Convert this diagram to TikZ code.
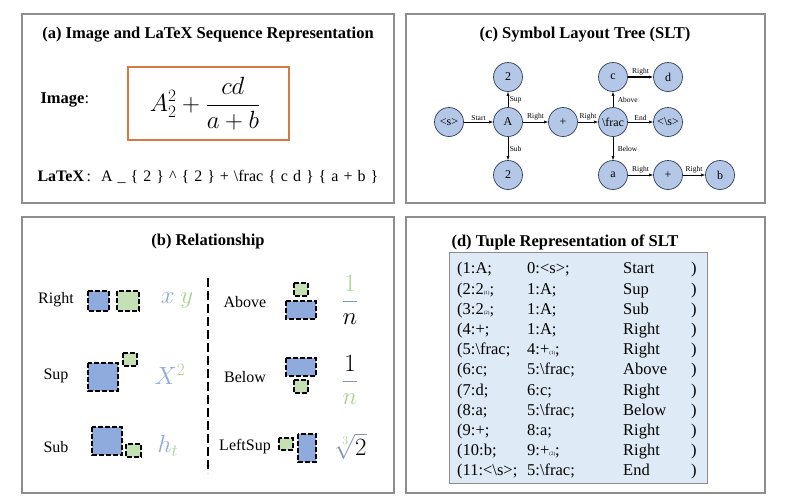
\documentclass[tikz,border=0pt]{standalone}
\usepackage{fontspec}
\setmainfont{Liberation Serif}
\usepackage{amsmath}
\usetikzlibrary{arrows.meta}

\definecolor{framegray}{HTML}{8E8E8E}
\definecolor{imgorange}{HTML}{D27B43}
\definecolor{nodefill}{HTML}{B4C7E7}
\definecolor{nodeline}{HTML}{2F3F60}
\definecolor{boxblue}{HTML}{8FAADC}
\definecolor{boxgreen}{HTML}{C5E0B4}
\definecolor{txtgreen}{HTML}{A9D18E}
\definecolor{barblue}{HTML}{8497B0}
\definecolor{tablefill}{HTML}{DEEBF7}
\definecolor{tableline}{HTML}{8C8C8C}

\tikzset{
  panel/.style={draw=framegray, line width=1.4pt},
  title/.style={font=\fontsize{16.5}{19}\selectfont\bfseries},
  slt/.style={circle, draw=nodeline, fill=nodefill, line width=0.7pt,
    minimum size=29pt, inner sep=0pt, font=\fontsize{12}{14}\selectfont},
  link/.style={-{Latex[length=4pt,width=3pt]}, line width=0.5pt},
  elabel/.style={font=\fontsize{7.5}{8}\selectfont, inner sep=1.5pt},
  bluebox/.style={draw, fill=boxblue, dash pattern=on 5pt off 2pt, line width=1.1pt},
  greenbox/.style={draw, fill=boxgreen, dash pattern=on 5pt off 2pt, line width=1.1pt},
  rellabel/.style={font=\fontsize{16}{18}\selectfont},
  relmath/.style={font=\fontsize{23}{26}\selectfont},
}

\begin{document}
\begin{tikzpicture}[x=1pt, y=-1pt]
    \useasboundingbox (0,0) rectangle (789,501);
    % panel frames
    \draw[panel] (22,14) rectangle (394,203);
    \draw[panel] (406,14) rectangle (765,203);
    \draw[panel] (22,217) rectangle (394,493);
    \draw[panel] (406,217) rectangle (765,493);

    % (a) image and latex sequence
    \node[title] (titlea) at (208,35) {(a) Image and LaTeX Sequence Representation};
    \node[anchor=west, font=\fontsize{16.5}{19}\selectfont] (imglabel) at (37,100) {\textbf{Image}:};
    \draw[imgorange, line width=1.8pt] (128,67) rectangle (289,140);
    \node[font=\fontsize{25}{29}\selectfont] (formula) at (205,104) {$\displaystyle A_2^2+\frac{cd}{a+b}$};
    \node[anchor=west, font=\fontsize{16}{19}\selectfont] (latexseq) at (34,177)
      {\spaceskip=5pt\textbf{LaTeX}\,:\ \ A \_ \{ 2 \} \textasciicircum{} \{ 2 \} + \textbackslash frac \{ c d \} \{ a + b \}};

    % (c) symbol layout tree
    \node[title] (titlec) at (585,35) {(c) Symbol Layout Tree (SLT)};
    \node[slt] (s)     at (449,122) {<s>};
    \node[slt] (A)     at (508,122) {A};
    \node[slt] (sup2)  at (508,77)  {2};
    \node[slt] (sub2)  at (508,175) {2};
    \node[slt] (plus)  at (563,122) {+};
    \node[slt] (frac)  at (613,122) {\textbackslash frac};
    \node[slt] (end)   at (668,122) {<\textbackslash s>};
    \node[slt] (c)     at (613,77)  {c};
    \node[slt] (d)     at (668,77)  {d};
    \node[slt] (a)     at (613,175) {a};
    \node[slt] (plus2) at (668,175) {+};
    \node[slt] (b)     at (720,175) {b};
    \draw[link] (s) -- node[elabel,above] (lstart) {Start} (A);
    \draw[link] (A) -- node[elabel,right] (lsup) {Sup} (sup2);
    \draw[link] (A) -- node[elabel,right] (lsub) {Sub} (sub2);
    \draw[link] (A) -- node[elabel,above] (lright1) {Right} (plus);
    \draw[link] (plus) -- node[elabel,above] (lright2) {Right} (frac);
    \draw[link] (frac) -- node[elabel,right,xshift=3pt] (labove) {Above} (c);
    \draw[link,line width=1.2pt] (c) -- node[elabel,above] (lright3) {Right} (d);
    \draw[link] (frac) -- node[elabel,above] (lend) {End} (end);
    \draw[link] (frac) -- node[elabel,right,xshift=3pt] (lbelow) {Below} (a);
    \draw[link] (a) -- node[elabel,above] (lright4) {Right} (plus2);
    \draw[link] (plus2) -- node[elabel,above] (lright5) {Right} (b);

    % (b) relationship
    \node[title] (titleb) at (208,242) {(b) Relationship};
    \draw[dash pattern=on 9pt off 4pt, line width=1.6pt] (208,278) -- (208,473);
    % left column
    \node[rellabel] (rright) at (56,300) {Right};
    \draw[bluebox]  (88,291) rectangle (109,311);
    \draw[greenbox] (117,291) rectangle (139,311);
    \node[relmath] (mxy) at (177,301) {$\color{boxblue}x\ \color{txtgreen}y$};
    \node[rellabel] (rsup) at (56,376) {Sup};
    \draw[bluebox]  (88,363) rectangle (118,391);
    \draw[greenbox] (123,353) rectangle (137,366);
    \node[relmath] (mxsq) at (170,374) {$\color{boxblue}X^{\color{txtgreen}2}$};
    \node[rellabel] (rsub) at (56,447) {Sub};
    \draw[bluebox]  (92,427) rectangle (122,455);
    \draw[greenbox] (126,444) rectangle (141,457);
    \node[relmath] (mht) at (168,446) {$\color{boxblue}h_{\color{txtgreen}t}$};
    % right column
    \node[rellabel] (rabove) at (245,302) {Above};
    \draw[greenbox] (294,283) rectangle (308,296);
    \draw[bluebox]  (286,301) rectangle (316,319);
    \node[relmath] (mabove) at (350,300) {$\displaystyle\color{barblue}\frac{\color{txtgreen}1}{\color{black}n}$};
    \node[rellabel] (rbelow) at (245,377) {Below};
    \draw[bluebox]  (286,358) rectangle (316,376);
    \draw[greenbox] (294,380) rectangle (308,393);
    \node[relmath] (mbelow) at (350,380) {$\displaystyle\color{barblue}\frac{\color{black}1}{\color{txtgreen}n}$};
    \node[rellabel] (rleftsup) at (245,447) {LeftSup};
    \draw[greenbox] (279,438) rectangle (293,450);
    \draw[bluebox]  (298,434) rectangle (316,462);
    \node[relmath] (mroot) at (351,446) {$\color{barblue}\sqrt[\color{txtgreen}3]{\color{black}2}$};

    % (d) tuple representation
    \node[title, anchor=west] (titled) at (448,242) {(d) Tuple Representation of SLT};
    \draw[draw=tableline, fill=tablefill, line width=0.8pt] (449,252) rectangle (707,483);
    \node[anchor=north west, inner sep=0pt, font=\fontsize{16.5}{20.2}\selectfont] (tuples) at (457,259.5) {%
      \setlength{\tabcolsep}{0pt}%
      \begin{tabular}{@{}p{70pt}p{96pt}p{68pt}l@{}}
        (1:A; & 0:<s>; & Start & )\\
        (2:2{\fontsize{5}{5}\selectfont(1)}; & 1:A; & Sup & )\\
        (3:2{\fontsize{5}{5}\selectfont(2)}; & 1:A; & Sub & )\\
        (4:+; & 1:A; & Right & )\\
        (5:\textbackslash frac; & 4:+{\fontsize{5}{5}\selectfont(1)}; & Right & )\\
        (6:c; & 5:\textbackslash frac; & Above & )\\
        (7:d; & 6:c; & Right & )\\
        (8:a; & 5:\textbackslash frac; & Below & )\\
        (9:+; & 8:a; & Right & )\\
        (10:b; & 9:+{\fontsize{5}{5}\selectfont(2)}; & Right & )\\
        (11:<\textbackslash s>; & 5:\textbackslash frac; & End & )
      \end{tabular}};
\end{tikzpicture}
\end{document}
